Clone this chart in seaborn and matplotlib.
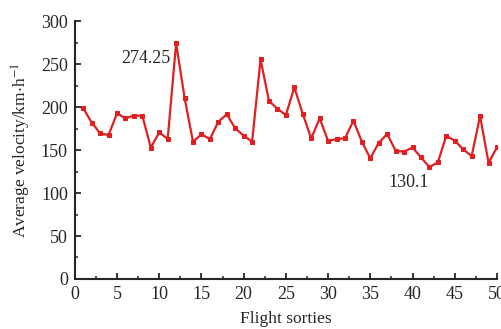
import matplotlib
matplotlib.use("Agg")
import matplotlib.pyplot as plt
from matplotlib.ticker import MultipleLocator
import pandas as pd
import seaborn as sns

# Average velocity for each flight sortie
sorties = list(range(1, 51))
velocity = [
    198.5, 182, 169.4, 167.4, 192.7, 186.9, 190, 190, 152.7, 170.6,
    162.8, 274.25, 210.8, 159.7, 168.2, 162.8, 183, 191.5, 175.2, 166.7,
    159.7, 255.4, 207, 198, 190.7, 222.9, 191.9, 163.6, 186.8, 160.5,
    162.8, 163.6, 184, 159.7, 140.3, 158.5, 168.6, 149.2, 148, 153,
    141.5, 130.1, 135.7, 166.6, 160.8, 150.8, 143, 189.5, 135.2, 153,
]
x_ticks = [0, 5, 10, 15, 20, 25, 30, 35, 40, 45, 50]
y_ticks = [0, 50, 100, 150, 200, 250, 300]

df = pd.DataFrame({"sortie": sorties, "velocity": velocity})

sns.set_style("ticks")
plt.rcParams["font.family"] = ["Liberation Serif", "DejaVu Serif"]
plt.rcParams["mathtext.fontset"] = "stix"

fig, ax = plt.subplots(figsize=(5.02, 3.29), dpi=100)
fig.subplots_adjust(left=0.149, right=0.990, bottom=0.152, top=0.936)

line_color = "#e02020"
sns.lineplot(data=df, x="sortie", y="velocity", ax=ax, color=line_color,
             linewidth=1.6, marker="s", markersize=3.0,
             markeredgecolor=line_color, markerfacecolor=line_color)

ax.set_xlim(0, 50)
ax.set_ylim(0, 300)
ax.set_xticks(x_ticks)
ax.set_yticks(y_ticks)
ax.xaxis.set_minor_locator(MultipleLocator(2.5))
ax.yaxis.set_minor_locator(MultipleLocator(25))
ax.tick_params(which="major", direction="in", length=4, width=1.3,
               labelsize=13, pad=5)
ax.tick_params(which="minor", direction="in", length=2, width=1.1)

for side in ("top", "right"):
    ax.spines[side].set_visible(False)
for side in ("left", "bottom"):
    ax.spines[side].set_linewidth(1.5)

ax.set_xlabel("Flight sorties", fontsize=12.5, labelpad=6)
ax.set_ylabel("Average velocity/km$\\cdot$h$^{-1}$", fontsize=12.5, labelpad=6)

# Annotate the maximum and minimum sortie velocities
i_max = velocity.index(max(velocity))
i_min = velocity.index(min(velocity))
ax.annotate(f"{velocity[i_max]:g}", (sorties[i_max], velocity[i_max]),
            xytext=(-4, -11), textcoords="offset points",
            ha="right", va="center", fontsize=13)
ax.annotate(f"{velocity[i_min]:g}", (sorties[i_min], velocity[i_min]),
            xytext=(-15, -11), textcoords="offset points",
            ha="center", va="center", fontsize=13)

fig.savefig("out.png", dpi=100)
